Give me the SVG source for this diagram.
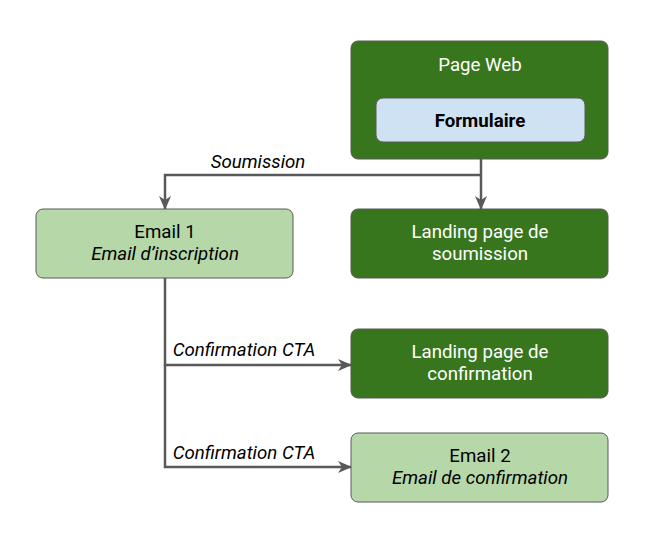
<svg xmlns="http://www.w3.org/2000/svg" width="650" height="540" viewBox="0 0 650 540">
<style>
.t{font-family:Roboto,"Liberation Sans",sans-serif;font-size:18.67px;text-anchor:middle}
.w{fill:#ffffff}
.k{fill:#000000}
.i{font-style:italic}
.dark{fill:#38761d;stroke:#595959;stroke-width:1}
.light{fill:#b6d7a8;stroke:#595959;stroke-width:1}
.blue{fill:#cfe2f3;stroke:#595959;stroke-width:1}
.c{fill:none;stroke:#595959;stroke-width:2.5}
</style>
<defs>
<marker id="ah" viewBox="0 0 14 14" refX="13" refY="7" markerWidth="14" markerHeight="14" markerUnits="userSpaceOnUse" orient="auto">
<path d="M0,1 L14,7 L0,13 L4,7 Z" fill="#595959"/>
</marker>
</defs>
<rect width="650" height="540" fill="#ffffff"/>
<g id="connectors">
<path class="c" d="M481,142 V209" marker-end="url(#ah)"/>
<path class="c" d="M481,175 H165 V209" marker-end="url(#ah)"/>
<path class="c" d="M165,278 V365 H351" marker-end="url(#ah)"/>
<path class="c" d="M165,365 V467 H351" marker-end="url(#ah)"/>
<text class="t k i" x="258" y="168">Soumission</text>
<text class="t k i" x="244" y="356">Confirmation CTA</text>
<text class="t k i" x="244" y="459">Confirmation CTA</text>
</g>
<g id="page-web">
<rect class="dark" x="351" y="41" width="257" height="118" rx="7"/>
<text class="t w" x="480" y="71">Page Web</text>
</g>
<g id="formulaire">
<rect class="blue" x="376" y="98" width="209" height="44" rx="7"/>
<text class="t k" x="480" y="127" font-weight="bold">Formulaire</text>
</g>
<g id="landing-soumission">
<rect class="dark" x="351" y="209" width="257" height="69" rx="7"/>
<text class="t w" x="480" y="238">Landing page de</text>
<text class="t w" x="480" y="260">soumission</text>
</g>
<g id="email1">
<rect class="light" x="36" y="209" width="257" height="69" rx="7"/>
<text class="t k" x="165" y="238">Email 1</text>
<text class="t k i" x="165" y="260">Email d’inscription</text>
</g>
<g id="landing-confirmation">
<rect class="dark" x="351" y="329" width="257" height="69" rx="7"/>
<text class="t w" x="480" y="358">Landing page de</text>
<text class="t w" x="480" y="380">confirmation</text>
</g>
<g id="email2">
<rect class="light" x="351" y="433" width="257" height="69" rx="7"/>
<text class="t k" x="480" y="462">Email 2</text>
<text class="t k i" x="480" y="484">Email de confirmation</text>
</g>
</svg>
